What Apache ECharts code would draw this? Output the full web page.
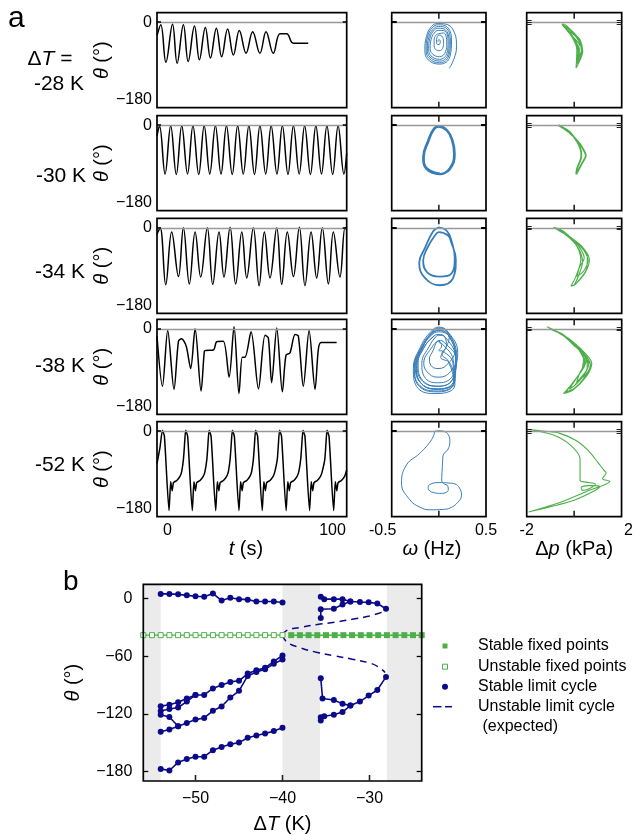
<!DOCTYPE html>
<html><head><meta charset="utf-8">
<script src="https://cdn.jsdelivr.net/npm/echarts@6/dist/echarts.min.js"></script>
<style>html,body{margin:0;padding:0;background:#fff}#c{width:636px;height:835px}</style>
</head><body><div id="c"></div>
<script>
const FONT = "'Liberation Sans', Arial, Helvetica, sans-serif";
// ---------- labels & ticks ----------
const ROW_LABELS = ['-28 K', '-30 K', '-34 K', '-38 K', '-52 K'];
const THETA_TICKS = [0, -180];
const T_TICKS = [0, 100];
const OMEGA_TICKS = [-0.5, 0.5];
const DP_TICKS = [-2, 2];
const B_X_TICKS = [-50, -40, -30];
const B_Y_TICKS = [0, -60, -120, -180];
const B_BANDS = [[-56, -54], [-40, -35.7], [-28, -24]];
const LEGEND_NAMES = ['Stable fixed points', 'Unstable fixed points', 'Stable limit cycle', 'Unstable limit cycle', ' (expected)'];

// ---------- panel a: time series theta(t) ----------
const ts28 = [[-6.3,-30],[-4.1,-6],[-1.0,-93],[3.0,-5],[5.8,-95],[9.6,-6],[12.5,-91],[16.3,-9],[19.3,-87],[22.9,-12],[26.0,-83],[29.6,-14],[32.8,-80],[36.4,-16],[39.9,-76],[43.5,-19],[47.6,-72],[51.6,-22],[56.0,-72],[59.7,-22],[64.1,-72],[68.2,-27],[72.2,-27],[76.2,-48.7],[85.3,-48.7]];
const ts30 = [[-6.4,-25],[-4.9,-1],[-1.5,-113],[1.9,-1],[5.3,-114],[8.6,-1],[12.1,-113],[15.4,-1],[18.9,-114],[22.2,-1],[25.6,-113],[29.0,-1],[32.4,-113],[35.7,-1],[39.2,-114],[42.5,-1],[45.9,-113],[49.3,-1],[52.7,-114],[56.0,-1],[59.5,-113],[62.8,-1],[66.3,-113],[69.6,-1],[73.0,-114],[76.3,-1],[79.8,-113],[83.1,-1],[86.6,-114],[89.9,-1],[93.3,-113],[96.6,-1],[100.1,-114],[103.4,-1],[106.9,-113],[108.6,-65]];
const ts34 = [[-6.4,-15],[-4.5,0],[-1.1,-132],[2.5,-10],[6.6,-113],[9.6,0],[13.2,-130],[16.7,-10],[20.1,-114],[24.1,0],[27.4,-131],[31.2,-10],[34.2,-114],[37.9,1],[41.3,-130],[45.0,-10],[48.0,-116],[52.0,0],[55.5,-134],[58.7,-10],[62.1,-116],[66.2,0],[69.2,-131],[72.6,-10],[76.3,-113],[79.9,1],[83.3,-134],[87.0,-10],[90.4,-116],[93.8,0],[97.5,-130],[100.5,-10],[104.5,-114],[107.6,0],[108.6,-5]];
const ts38 = [[-6.4,-17],[-3.1,-133],[0.1,-4],[3.9,-140],[6.6,-29],[8.4,-23],[10.2,-30],[11.6,-44],[14.0,-92],[16.7,0],[20.3,-144],[22.3,-52],[23.1,-50],[27.8,-49],[29.8,-30],[33.8,-29],[37.3,-112],[40.3,5],[43.3,-150],[45.3,-66],[46.9,-66],[50.6,-7],[55.1,-139],[59.1,-15],[61.1,-21],[63.1,-125],[66.2,2],[69.6,-146],[71.8,-61],[74.2,-56],[77.3,-13],[79.3,-17],[82.3,-133],[85.8,-4],[89.4,-140],[91.4,-48],[93.0,-32],[102.5,-32]];
const ts52 = [[-6.4,-75],[-4.6,-38],
 [-3.1,2],[-1.9,-12],[0.9,-184],[1.9,-117],[2.8,-138],[3.6,-119],[5.6,-114],[7.6,-104],[8.6,-93],[9.6,-66],[10.2,-36],
 [11.0,2],[12.2,-12],[15.0,-184],[16.0,-117],[16.9,-138],[17.7,-119],[19.7,-114],[21.7,-104],[22.7,-93],[23.8,-66],[24.4,-36],
 [25.2,2],[26.4,-12],[29.2,-184],[30.2,-117],[31.1,-138],[31.9,-119],[33.9,-114],[35.9,-104],[36.9,-93],[37.9,-66],[38.5,-36],
 [39.3,2],[40.5,-12],[43.3,-184],[44.3,-117],[45.2,-138],[46.0,-119],[48.0,-114],[50.0,-104],[51.0,-93],[52.0,-66],[52.6,-36],
 [53.4,2],[54.6,-12],[57.4,-184],[58.4,-117],[59.3,-138],[60.1,-119],[62.1,-114],[64.1,-104],[65.1,-93],[66.5,-66],[67.1,-36],
 [67.9,2],[69.1,-12],[71.9,-184],[72.9,-117],[73.8,-138],[74.6,-119],[76.6,-114],[78.6,-104],[79.6,-93],[80.7,-66],[81.3,-36],
 [82.1,2],[83.3,-12],[86.1,-184],[87.1,-117],[88.0,-138],[88.8,-119],[90.8,-114],[92.8,-104],[93.8,-93],[95.3,-66],[95.9,-36],
 [96.7,2],[97.9,-12],[100.7,-184],[101.7,-117],[102.6,-138],[103.4,-119],[105.4,-114],[107.4,-104],[108.6,-90]];

// ---------- panel a: omega-theta portraits ----------
const om28 = [[0.11,-107],[0.16,-85],[0.187,-57],[0.152,-18],[0.064,-4],
 [-0.007,-3],[-0.078,-10],[-0.131,-33],[-0.148,-64],[-0.113,-87],[0.011,-97],[0.117,-80],[0.134,-41],[0.081,-10],
 [-0.005,-6],[-0.07,-13],[-0.12,-34],[-0.135,-62],[-0.103,-84],[0.01,-94],[0.105,-78],[0.122,-44],[0.073,-13],
 [-0.005,-10],[-0.063,-17],[-0.108,-36],[-0.122,-62],[-0.093,-81],[0.01,-90],[0.095,-76],[0.11,-46],[0.066,-17],
 [-0.005,-14],[-0.056,-20],[-0.096,-38],[-0.108,-61],[-0.083,-78],[0.008,-86],[0.085,-72],[0.098,-47],[0.058,-20],
 [-0.005,-19],[-0.048,-25],[-0.082,-40],[-0.092,-60],[-0.07,-73],[0.006,-80],[0.072,-68],[0.084,-48],[0.05,-25],
 [-0.005,-27],[-0.035,-31],[-0.05,-42],[-0.05,-55],[-0.035,-63],[0.004,-66],[0.045,-58],[0.05,-45],[0.03,-32],
 [0.0,-30],[-0.02,-36],[-0.025,-45],[-0.01,-52],[0.012,-50],[0.015,-44],[0.0,-40],[-0.008,-44],[-0.005,-46]];
const om30 = [[0.011,-113.5],[0.117,-101.7],[0.168,-66.5],[0.145,-35],[0.087,-11.7],[-0.001,-2.3],[-0.053,-7.8],[-0.113,-35.2],[-0.166,-74.3],[-0.131,-101.7],[0.011,-113.5],
 [0.115,-100],[0.162,-66],[0.14,-35],[0.085,-12.5],[0.0,-3.5],[-0.05,-9],[-0.108,-36],[-0.16,-74],[-0.126,-100],[0.011,-112]];
const om34 = [[0.0,1],[-0.06,-8],[-0.148,-47],[-0.208,-81],[-0.148,-116],[0.01,-133],[0.152,-116],[0.18,-74],[0.13,-33],[0.098,-18],[0.0,-10],[-0.042,-18],[-0.113,-43],[-0.166,-76],[-0.124,-103],[0.01,-113],[0.134,-106],[0.168,-68],[0.14,-35],[0.088,-8],[0.0,1]];
const om38 = [[-0.05,-17],[-0.15,-40],[-0.22,-80],[-0.17,-120],[0.0,-133],
 [0.15,-115],[0.18,-70],[0.1,-15],[0.0,-4],
 [-0.08,-12],[-0.17,-42],[-0.24,-85],[-0.18,-128],[0.0,-140],
 [0.17,-120],[0.18,-70],[0.06,-32],[0.0,-27],
 [-0.03,-33],[-0.06,-50],[-0.1,-70],[-0.07,-88],[0.0,-92],
 [0.1,-80],[0.17,-50],[0.1,-10],[0.0,0],
 [-0.08,-10],[-0.17,-40],[-0.26,-88],[-0.2,-132],[0.0,-144],
 [0.16,-125],[0.15,-80],[0.04,-52],[0.0,-50],[0.03,-40],[0.0,-29],
 [-0.08,-45],[-0.16,-80],[-0.1,-105],[0.0,-112],
 [0.14,-95],[0.2,-55],[0.1,-8],[0.0,4],
 [-0.09,-8],[-0.19,-40],[-0.27,-92],[-0.22,-138],[-0.02,-150],
 [0.17,-130],[0.12,-80],[0.02,-66],[0.06,-50],[0.11,-20],[0.0,-7],
 [-0.08,-15],[-0.18,-45],[-0.25,-88],[-0.18,-128],[0.0,-139],
 [0.16,-120],[0.18,-70],[0.08,-22],[0.0,-15],
 [-0.03,-18],[-0.1,-40],[-0.18,-80],[-0.14,-115],[0.0,-125],
 [0.15,-108],[0.19,-65],[0.1,-10],[0.0,2],
 [-0.08,-10],[-0.18,-40],[-0.26,-90],[-0.2,-135],[0.0,-146],
 [0.16,-125],[0.1,-75],[0.03,-58],[0.08,-40],[0.06,-18],[0.0,-13],
 [-0.07,-20],[-0.16,-45],[-0.23,-85],[-0.17,-122],[0.0,-133],
 [0.15,-115],[0.18,-70],[0.1,-14],[0.0,-4],
 [-0.08,-12],[-0.17,-42],[-0.24,-85],[-0.18,-128],[0.0,-140],
 [0.17,-120],[0.15,-70],[0.04,-36],[0.0,-32]];
const om52 = [[-0.042,0],[-0.078,-20],[-0.201,-51],[-0.343,-78],[-0.396,-120],[-0.307,-159],[-0.2,-176],[-0.095,-182],[0.05,-181],[0.117,-178],[0.2,-165],[0.24,-148],[0.22,-132],[0.17,-122],[0.1,-120],[0.0,-119],[-0.1,-124],[-0.113,-132],[-0.06,-142],[0.03,-144],[0.1,-136],[0.095,-127],[0.05,-121],[0.03,-113],[0.035,-90],[0.039,-74],[0.046,-55],[0.094,-43],[0.117,-24],[0.1,-8],[0.06,-1],[0.0,1],[-0.042,0]];

// ---------- panel a: delta p - theta portraits ----------
const dp28 = [[-0.52,-4],[-0.24,-22],[0.04,-48],[0.11,-64],[0.08,-106],[0.25,-87],[0.36,-68],[0.25,-41],[-0.03,-25],[-0.45,-4],
 [-0.5,-5],[-0.2,-24],[0.08,-50],[0.16,-66],[0.12,-96],[0.28,-78],[0.33,-62],[0.2,-40],[-0.06,-22],[-0.48,-6],
 [-0.46,-8],[-0.16,-26],[0.1,-50],[0.2,-64],[0.16,-88],[0.3,-70],[0.3,-56],[0.14,-38],[-0.1,-22],[-0.42,-10],
 [-0.4,-12],[-0.12,-28],[0.12,-50],[0.22,-62],[0.2,-80],[0.3,-66],[0.26,-52],[0.1,-36],[-0.12,-24],[-0.35,-16],
 [-0.2,-26],[0.05,-40],[0.2,-50],[0.25,-55],[0.22,-50]];
const dp30 = [[-0.66,0],[-0.24,-15.6],[0.18,-39],[0.41,-58.7],[0.49,-70.4],[0.31,-90],[0.084,-113.5],[0.12,-100],[0.3,-72],[0.28,-58],[0.12,-38],[-0.2,-15],[-0.55,-3],[-0.66,0]];
const dp34 = [[-0.87,1],[-0.31,-16],[0.32,-43],[0.64,-74],[0.46,-104],[0.04,-131],[-0.14,-135],[0.07,-113],[0.28,-74],[0.07,-39],[-0.45,-12],[-0.87,1],
 [-0.6,-8],[-0.1,-24],[0.4,-52],[0.58,-76],[0.4,-100],[0.12,-113],[0.22,-92],[0.42,-70],[0.18,-42],[-0.3,-15],[-0.8,0],
 [-0.35,-14],[0.2,-38],[0.55,-68],[0.52,-95],[0.1,-128],[0.0,-133],[0.15,-115],[0.35,-80],[0.2,-50],[-0.4,-10],[-0.85,1]];
const dp38 = [[-1.15,5],[-0.45,-14],[0.25,-45],[0.74,-80],[0.52,-110],[-0.04,-141],[-0.45,-150],[-0.1,-128],[0.32,-95],[0.39,-64],[-0.04,-37],[-0.6,-10],[-1.1,3],
 [-0.9,-2],[-0.3,-20],[0.3,-50],[0.68,-82],[0.45,-112],[0.0,-138],[-0.35,-146],[-0.05,-124],[0.36,-92],[0.45,-66],[0.05,-40],[-0.5,-12],[-0.95,-2],
 [-0.7,-8],[-0.15,-28],[0.4,-58],[0.6,-84],[0.38,-110],[0.05,-130],[-0.2,-140],[0.05,-118],[0.42,-88],[0.5,-70],[0.15,-45],[-0.4,-16],[-0.8,-5],
 [-0.5,-14],[0.1,-38],[0.5,-66],[0.55,-90],[0.3,-112],[0.1,-124],[0.25,-100],[0.45,-78],[0.3,-58],[-0.1,-28],[-0.6,-10],
 [-0.3,-22],[0.2,-45],[0.6,-76],[0.7,-85],[0.5,-105],[0.2,-120],[0.0,-132]];
const dp52 = [[-1.92,4],[-1.2,0],[-0.6,-5],[0.1,-22],[0.6,-45],[1.0,-72],[1.25,-90],[1.35,-96],[1.2,-110],[1.5,-116],[0.5,-140],[-0.6,-165],[-1.92,-187],
 [-1.0,-175],[0.0,-160],[0.9,-137],[1.1,-128],[0.6,-126],[0.3,-130],[0.35,-137],[0.6,-134],[0.9,-122],[0.5,-118],[0.25,-114],[0.25,-64],[-0.2,-30],[-0.9,-8],[-1.92,4]];

// ---------- panel b: bifurcation diagram ----------
const bUnstableFixed = [[-56,-38],[-55,-38],[-54,-38],[-53,-38],[-52,-38],[-51,-38],[-50,-38],[-49,-38],[-48,-38],[-47,-38],[-46,-38],[-45,-38],[-44,-38],[-43,-38],[-42,-38],[-41,-38],[-40,-38]];
const bStableFixed = [[-39,-38],[-38,-38],[-37,-38],[-36,-38],[-35,-38],[-34,-38],[-33,-38],[-32,-38],[-31,-38],[-30,-38],[-29,-38],[-28,-38],[-27,-38],[-26,-38],[-25,-38],[-24,-38]];
const bUnstableUpper = [[-40,-38],[-39.5,-33],[-38,-30],[-36,-27],[-34,-24.5],[-32,-21.5],[-30,-18],[-28.2,-13]];
const bUnstableLower = [[-40,-38],[-39.5,-45],[-38,-51],[-36,-56],[-34,-59.5],[-32,-63],[-30,-67],[-29,-71],[-28.2,-77]];
const lcTopLeft = [[-54,5],[-53,5],[-52,4.5],[-51,3.5],[-50,2.5],[-49,2],[-48,5.5],[-47,-2],[-46,1],[-45,-0.5],[-44,-1],[-43,-3],[-42,-3],[-41,-3],[-40,-4]];
const lcMidA = [[-54,-112],[-53,-110.6],[-52,-108],[-51,-104],[-50,-100.3],[-49,-100.3],[-48,-93.5],[-47,-90],[-46,-86.7],[-45,-85.6],[-44,-78],[-43,-74.7],[-42,-72],[-41,-65.4],[-40,-59.2]];
const lcMidB = [[-54,-121],[-53,-123.3],[-52,-133],[-51,-129.5],[-50,-126],[-49,-124.3],[-48,-116.8],[-47,-112.3],[-46,-103],[-45,-96],[-44,-80.5],[-43,-76.4],[-42,-73.6],[-41,-67.8],[-40,-63.4]];
const lcMidC = [[-54,-138.7],[-53,-136.3],[-52,-133]];
const lcMidD = [[-54,-117],[-53,-115],[-52,-113.4],[-51,-107.2],[-50,-100.3]];
const lcBottom = [[-54,-177.4],[-53,-179.1],[-52,-170.6],[-51,-167.1],[-50,-164.7],[-49,-164.7],[-48,-157.9],[-47,-154.5],[-46,-151.7],[-45,-150],[-44,-144.9],[-43,-142.5],[-42,-140.4],[-41,-138],[-40,-134.6]];
const lcTopRightA = [[-35.6,2],[-35.2,-0.5],[-34.1,-0.5],[-33.1,-0.5],[-32.2,-3],[-31.1,-3.5],[-30.1,-3.8],[-29.1,-5],[-28.1,-10.5]];
const lcTopRightB = [[-35.6,-20],[-35.6,-11],[-34.1,-10.5],[-33.1,-6],[-32.2,-3]];
const lcBotRightA = [[-35.6,-83],[-35.4,-104],[-34.1,-105.5],[-33.1,-109.6],[-32.2,-111.3],[-31.1,-107.2],[-30.1,-101],[-29.1,-95.2],[-28.1,-81.5]];
const lcBotRightB = [[-35.6,-127],[-35.6,-123.6],[-35.2,-122.6],[-34.1,-121],[-33.1,-118.2],[-32.2,-111.3]];

// ================= build =================
const BLUE = '#377eb8', GREEN = '#4daf4a', NAVY = '#0b0b8a';
const ROW_TOP = [12.7, 115.7, 218.3, 319.3, 421.7], ROW_H = 95;
const COLS = [{left:157, width:189.7}, {left:391.7, width:94.3}, {left:526.7, width:95}];
const TH_RANGE = [-198, 22];
const TS = [ts28, ts30, ts34, ts38, ts52];
const OM = [om28, om30, om34, om38, om52];
const DP = [dp28, dp30, dp34, dp38, dp52];
const grids = [], xAxes = [], yAxes = [], series = [], phaseAxes = [];
const txt = (s) => Object.assign({fontFamily: FONT, color: '#000'}, s || {});
const NOLINE = {show: false, onZero: false};
const zeroLine = {silent:true, symbol:['none','none'], label:{show:false}, animation:false,
  lineStyle:{color:'#999', width:1.3, type:'solid'}, emphasis:{disabled:true}, data:[{yAxis:0}]};
const minus = (v) => v < 0 ? '\u2212' + Math.abs(v) : String(v);

for (let r = 0; r < 5; r++) {
  const last = r === 4;
  for (let c = 0; c < 3; c++) {
    const gi = grids.length;
    grids.push({left: COLS[c].left, top: ROW_TOP[r], width: COLS[c].width, height: ROW_H,
      show: true, borderColor: '#000', borderWidth: 1.7, backgroundColor: 'transparent', z: 10});
    const xr = c === 0 ? [-6.4, 108.6] : c === 1 ? [-0.5, 0.5] : [-2, 2];
    const xi = xAxes.length;
    const xBottom = {gridIndex: gi, type: 'value', position: 'bottom', min: xr[0], max: xr[1], z: 12,
      axisLine: NOLINE, splitLine: {show: false}, axisTick: {show: false}, axisLabel: {show: false}};
    if (last) {
      if (c === 0) {
        xBottom.axisLabel = txt({show: true, customValues: T_TICKS, fontSize: 16, margin: 6});
        xBottom.name = '{i|t} (s)';
      } else if (c === 1) {
        xBottom.axisLabel = txt({show: true, customValues: OMEGA_TICKS, fontSize: 16, margin: 6,
          formatter: (v) => v < 0 ? '{l|' + v + '}' : '{r|' + v + '}',
          rich: {l: txt({fontSize: 16, padding: [0, 18, 0, 0]}), r: txt({fontSize: 16})}});
        xBottom.name = '{i|\u03c9} (Hz)';
      } else {
        xBottom.axisLabel = txt({show: true, customValues: DP_TICKS, fontSize: 16, margin: 6,
          formatter: (v) => v < 0 ? '{l|' + v + '}' : '{r|' + v + '}',
          rich: {l: txt({fontSize: 16}), r: txt({fontSize: 16, padding: [0, 0, 0, 14]})}});
        xBottom.name = '\u0394{i|p} (kPa)';
      }
      xBottom.nameLocation = 'middle';
      xBottom.nameGap = 20;
      xBottom.nameTextStyle = txt({fontSize: 20, padding: c === 0 ? [0, 12, 0, 0] : c === 1 ? [0, 14, 0, 0] : 0,
        rich: {i: txt({fontSize: 20, fontStyle: 'italic'})}});
    }
    xAxes.push(xBottom);
    const yi = yAxes.length;
    if (c > 0) phaseAxes.push([xi, yi, COLS[c].left + COLS[c].width / 2, ROW_TOP[r]]);
    const tickY = c === 0 ? {show: true, inside: true, length: 4, customValues: [0], lineStyle: {color: '#000', width: 1.5}}
      : c === 1 ? {show: true, inside: true, length: 5, customValues: [0], lineStyle: {color: '#000', width: 2}}
      : {show: true, inside: true, length: 5, customValues: [4, 0, -4], lineStyle: {color: '#222', width: 1}};
    const yLeft = {gridIndex: gi, type: 'value', position: 'left', min: TH_RANGE[0], max: TH_RANGE[1], z: 11,
      axisLine: NOLINE, splitLine: {show: false}, axisTick: tickY, axisLabel: {show: false}};
    if (c === 0) {
      yLeft.axisLabel = txt({show: true, customValues: THETA_TICKS, fontSize: 16, margin: 5, formatter: minus});
      yLeft.name = '{i|\u03b8} (\u00b0)';
      yLeft.nameLocation = 'middle';
      yLeft.nameGap = 25;
      yLeft.nameRotate = 90;
      yLeft.nameTextStyle = txt({fontSize: 20, rich: {i: txt({fontSize: 20, fontStyle: 'italic'})}});
    }
    yAxes.push(yLeft);
    yAxes.push({gridIndex: gi, type: 'value', position: 'right', min: TH_RANGE[0], max: TH_RANGE[1], z: 11,
      axisLine: NOLINE, splitLine: {show: false}, axisLabel: {show: false}, axisTick: tickY});
    const data = c === 0 ? TS[r] : c === 1 ? OM[r] : DP[r];
    let lw = 1.1, sm = 0.35;
    if (c === 0) { lw = 1.5; sm = r === 4 ? 0.2 : r === 3 ? 0.3 : 0.4; }
    if (c === 1) { lw = r === 1 ? 2.2 : r === 2 ? 1.8 : 1; sm = 0.45; }
    if (c === 2) { lw = r === 1 ? 1.8 : 1.1; sm = 0.3; }
    series.push({type: 'line', xAxisIndex: xi, yAxisIndex: yi, data: data, symbol: 'none', showSymbol: false,
      smooth: sm, animation: false, silent: true,
      lineStyle: {color: c === 0 ? '#000' : c === 1 ? BLUE : GREEN, width: lw},
      markLine: zeroLine});
  }
}

// panel b
const gb = grids.length;
const B_Y_RANGE = [-190, 15];
grids.push({left: 143.3, top: 584.3, width: 278.4, height: 199.7, show: true, borderColor: '#000', borderWidth: 1.7,
  backgroundColor: 'transparent', z: 10});
const bxi = xAxes.length;
xAxes.push({gridIndex: gb, type: 'value', position: 'bottom', min: -56, max: -24, z: 12, axisLine: NOLINE, splitLine: {show: false},
  axisTick: {show: false},
  axisLabel: txt({customValues: B_X_TICKS, fontSize: 16, margin: 10, formatter: minus}),
  name: '\u0394{i|T} (K)', nameLocation: 'middle', nameGap: 33,
  nameTextStyle: txt({fontSize: 20, rich: {i: txt({fontSize: 20, fontStyle: 'italic'})}})});
const byi = yAxes.length;
yAxes.push({gridIndex: gb, type: 'value', position: 'left', min: B_Y_RANGE[0], max: B_Y_RANGE[1], z: 11, axisLine: NOLINE, splitLine: {show: false},
  axisTick: {show: true, inside: true, length: 5, customValues: B_Y_TICKS, lineStyle: {color: '#000', width: 1.3}},
  axisLabel: txt({customValues: B_Y_TICKS, fontSize: 16, margin: 11, formatter: minus}),
  name: '{i|\u03b8} (\u00b0)', nameLocation: 'middle', nameGap: 60, nameRotate: 90,
  nameTextStyle: txt({fontSize: 20, rich: {i: txt({fontSize: 20, fontStyle: 'italic'})}})});
yAxes.push({gridIndex: gb, type: 'value', position: 'right', min: B_Y_RANGE[0], max: B_Y_RANGE[1], z: 11, axisLine: NOLINE,
  splitLine: {show: false}, axisLabel: {show: false},
  axisTick: {show: true, inside: true, length: 5, customValues: B_Y_TICKS, lineStyle: {color: '#000', width: 1.3}}});

series.push({name: 'Unstable fixed points', type: 'line', xAxisIndex: bxi, yAxisIndex: byi, data: bUnstableFixed,
  symbol: 'rect', symbolSize: 5, animation: false, silent: true,
  itemStyle: {color: '#fff', borderColor: GREEN, borderWidth: 1}, lineStyle: {color: GREEN, width: 1.3},
  markArea: {silent: true, itemStyle: {color: '#ebebeb'}, animation: false,
    data: B_BANDS.map(b => [{xAxis: b[0]}, {xAxis: b[1]}])}});
series.push({name: 'Stable fixed points', type: 'line', xAxisIndex: bxi, yAxisIndex: byi, data: bStableFixed,
  symbol: 'rect', symbolSize: 6, animation: false, silent: true,
  itemStyle: {color: GREEN}, lineStyle: {color: GREEN, width: 1.5}});
[bUnstableUpper, bUnstableLower].forEach(d => series.push({name: 'Unstable limit cycle', type: 'line',
  xAxisIndex: bxi, yAxisIndex: byi, data: d, symbol: 'none', smooth: 0.5, animation: false, silent: true,
  lineStyle: {color: NAVY, width: 1.5, type: [7, 5]}}));
[lcTopLeft, lcMidA, lcMidB, lcMidC, lcMidD, lcBottom, lcTopRightA, lcTopRightB, lcBotRightA, lcBotRightB].forEach(d =>
  series.push({name: 'Stable limit cycle', type: 'line', xAxisIndex: bxi, yAxisIndex: byi, data: d,
    symbol: 'circle', symbolSize: 6, animation: false, silent: true,
    itemStyle: {color: NAVY}, lineStyle: {color: NAVY, width: 1.6}}));

// text & manual legend
const gtext = (x, y, text, size, align, rich) => ({type: 'text', x: x, y: y, silent: true,
  style: {text: text, fontSize: size, fontFamily: FONT, fill: '#000', align: align || 'left', textAlign: align || 'left',
    verticalAlign: 'middle', textVerticalAlign: 'middle', rich: rich || {}}});
const itRich = (s) => ({i: {fontSize: s, fontFamily: FONT, fontStyle: 'italic', fill: '#000'}});
const LABEL_POS = [[59, 84.5], [61, 176.5], [60, 272], [60, 366], [60, 465]];
const graphics = [
  gtext(8, 19, 'a', 30, 'left'),
  gtext(63, 582, 'b', 28, 'left'),
  gtext(50, 59.5, '\u0394{i|T} =', 21, 'center', itRich(21))
];
ROW_LABELS.forEach((s, i) => graphics.push(gtext(LABEL_POS[i][0], LABEL_POS[i][1], s, 21, 'center')));
const LX = 445, LT = 478, LY = [646, 666.7, 686.7, 706.7, 726.7];
graphics.push({type: 'rect', silent: true, shape: {x: LX - 2.5, y: LY[0] - 2.5, width: 5, height: 5}, style: {fill: GREEN}});
graphics.push({type: 'rect', silent: true, shape: {x: LX - 2.5, y: LY[1] - 2.5, width: 5, height: 5}, style: {fill: '#fff', stroke: GREEN, lineWidth: 1}});
graphics.push({type: 'circle', silent: true, shape: {cx: LX, cy: LY[2], r: 3}, style: {fill: NAVY}});
graphics.push({type: 'line', silent: true, shape: {x1: 433, y1: LY[3], x2: 441.5, y2: LY[3]}, style: {stroke: NAVY, lineWidth: 1.5}});
graphics.push({type: 'line', silent: true, shape: {x1: 445, y1: LY[3], x2: 452, y2: LY[3]}, style: {stroke: NAVY, lineWidth: 1.5}});
LEGEND_NAMES.forEach((s, i) => graphics.push(gtext(LT, LY[i], s, 16, 'left')));

const chart = echarts.init(document.getElementById('c'), null, {renderer: 'canvas', width: 636, height: 835});
chart.setOption({animation: false, backgroundColor: '#fff', grid: grids, xAxis: xAxes, yAxis: yAxes, series: series, graphic: graphics});

// vertical tick marks at the zero of omega / delta p and at the Delta T ticks, placed with the library's scales
const tickEl = (x, y, dir) => ({type: 'rect', silent: true, z: 100, zlevel: 1,
  shape: {x: x - 0.8, y: dir > 0 ? y : y - 6, width: 1.6, height: 6}, style: {fill: '#222'}});
const ticks = [];
const px = (xi, yi, pt) => {
  let p = null;
  try { p = chart.convertToPixel({xAxisIndex: xi, yAxisIndex: yi}, pt); } catch (e) { p = null; }
  return (p && isFinite(p[0]) && isFinite(p[1])) ? p : null;
};
phaseAxes.forEach(([xi, yi, cx, top]) => {
  const pTop = px(xi, yi, [0, TH_RANGE[1]]);
  const pBot = px(xi, yi, [0, TH_RANGE[0]]);
  ticks.push(tickEl(pTop ? pTop[0] : cx, pTop ? pTop[1] : top, 1));
  ticks.push(tickEl(pBot ? pBot[0] : cx, pBot ? pBot[1] : top + ROW_H, -1));
});
B_X_TICKS.forEach(v => {
  const p = px(bxi, byi, [v, B_Y_RANGE[0]]);
  if (p) ticks.push(tickEl(p[0], p[1], -1));
});
chart.setOption({graphic: graphics.concat(ticks)});
</script></body></html>
